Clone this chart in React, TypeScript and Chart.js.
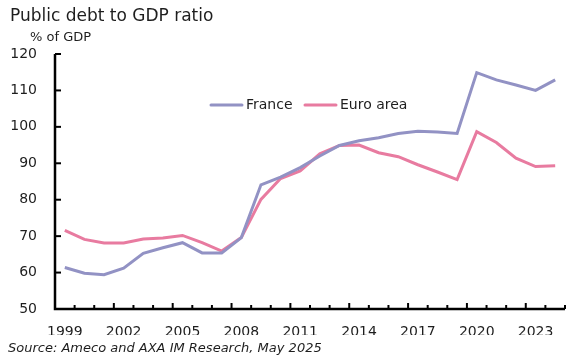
import React, { useEffect, useRef } from "react";
import { Chart, registerables } from "chart.js";

Chart.register(...registerables);

const years = [
  "1999", "2000", "2001", "2002", "2003", "2004", "2005", "2006", "2007", "2008",
  "2009", "2010", "2011", "2012", "2013", "2014", "2015", "2016", "2017", "2018",
  "2019", "2020", "2021", "2022", "2023", "2024",
];
const france = [
  61.4, 59.8, 59.4, 61.2, 65.3, 66.8, 68.2, 65.4, 65.4, 69.6,
  84.1, 86.2, 88.8, 92.0, 94.9, 96.2, 97.0, 98.2, 98.8, 98.6,
  98.2, 114.9, 112.9, 111.5, 110.0, 112.9,
];
const euroArea = [
  71.6, 69.1, 68.1, 68.1, 69.2, 69.5, 70.2, 68.2, 65.9, 69.6,
  80.1, 85.8, 87.9, 92.6, 94.9, 95.0, 92.9, 91.8, 89.6, 87.6,
  85.5, 98.7, 95.7, 91.4, 89.1, 89.3,
];
const seriesNames = ["France", "Euro area"];
const seriesColors = ["#9292c4", "#e87ba0"];
const yMin = 50;
const yMax = 120;
const yStep = 10;
const labelEvery = 3;
const titleText = "Public debt to GDP ratio";
const unitText = "% of GDP";
const sourceText = "Source: Ameco and AXA IM Research, May 2025";

const FONT = "'DejaVu Sans', sans-serif";
const INK = "#1e1e1e";

const decorPlugin = {
  id: "decor",
  afterDraw(chart: any) {
    const { ctx, chartArea } = chart;
    const xs = chart.scales.x;
    const ys = chart.scales.y;
    ctx.save();
    // axes
    ctx.strokeStyle = "#000";
    ctx.lineWidth = 2.5;
    ctx.lineCap = "butt";
    ctx.beginPath();
    ctx.moveTo(chartArea.left, chartArea.top);
    ctx.lineTo(chartArea.left, chartArea.bottom);
    ctx.lineTo(chartArea.right, chartArea.bottom);
    ctx.stroke();
    // x tick marks (category boundaries)
    ctx.lineWidth = 2;
    for (let i = 1; i <= years.length; i++) {
      const px = xs.getPixelForValue(i - 0.5);
      const len = i % labelEvery === 0 ? 6 : 4;
      ctx.beginPath();
      ctx.moveTo(px, chartArea.bottom);
      ctx.lineTo(px, chartArea.bottom - len);
      ctx.stroke();
    }
    // y tick marks
    for (let v = yMin; v <= yMax; v += yStep) {
      const py = ys.getPixelForValue(v);
      ctx.beginPath();
      ctx.moveTo(chartArea.left, py);
      ctx.lineTo(chartArea.left + 6, py);
      ctx.stroke();
    }
    // texts
    ctx.fillStyle = INK;
    ctx.textBaseline = "middle";
    ctx.textAlign = "left";
    ctx.font = `17px ${FONT}`;
    ctx.fillText(titleText, 10, 17);
    ctx.font = `13px ${FONT}`;
    ctx.fillText(unitText, 30, 38);
    ctx.font = `italic 13px ${FONT}`;
    ctx.fillText(sourceText, 8, 349);
    // legend
    ctx.font = `14px ${FONT}`;
    const legY = 105;
    const legStarts = [211, 305];
    seriesNames.forEach((name, i) => {
      const x0 = legStarts[i];
      ctx.strokeStyle = seriesColors[i];
      ctx.lineWidth = 3;
      ctx.lineCap = "round";
      ctx.beginPath();
      ctx.moveTo(x0, legY);
      ctx.lineTo(x0 + 31, legY);
      ctx.stroke();
      ctx.fillStyle = INK;
      ctx.fillText(name, x0 + 35, legY);
    });
    ctx.restore();
  },
};

export default function App() {
  const ref = useRef<HTMLCanvasElement | null>(null);
  useEffect(() => {
    if (!ref.current) return;
    const chart = new Chart(ref.current, {
      type: "line",
      data: {
        labels: years,
        datasets: [
          {
            label: seriesNames[0],
            data: france,
            borderColor: seriesColors[0],
            borderWidth: 3,
            pointRadius: 0,
            tension: 0,
          },
          {
            label: seriesNames[1],
            data: euroArea,
            borderColor: seriesColors[1],
            borderWidth: 3,
            pointRadius: 0,
            tension: 0,
          },
        ],
      },
      options: {
        animation: false,
        responsive: false,
        devicePixelRatio: 1,
        layout: { padding: { left: 0, right: 18, top: 54, bottom: 24 } },
        plugins: {
          legend: { display: false },
          tooltip: { enabled: false },
          title: { display: false },
        },
        scales: {
          x: {
            type: "category",
            offset: true,
            grid: { display: false, drawTicks: false },
            border: { display: false },
            afterFit: (s: any) => {
              s.height = 26;
            },
            ticks: {
              autoSkip: false,
              maxRotation: 0,
              minRotation: 0,
              padding: 15,
              color: INK,
              font: { family: FONT, size: 14 },
              callback: (_v: any, i: number) => (i % labelEvery === 0 ? years[i] : ""),
            },
          },
          y: {
            min: yMin,
            max: yMax,
            grid: { display: false, drawTicks: false },
            border: { display: false },
            afterFit: (s: any) => {
              s.width = 55;
            },
            ticks: {
              stepSize: yStep,
              padding: 18,
              color: INK,
              font: { family: FONT, size: 14 },
            },
          },
        },
      },
      plugins: [decorPlugin],
    });
    return () => chart.destroy();
  }, []);
  return (
    <div style={{ position: "absolute", left: 0, top: 0, width: 583, height: 359, background: "#fff" }}>
      <canvas ref={ref} width={583} height={359} style={{ display: "block" }} />
    </div>
  );
}
